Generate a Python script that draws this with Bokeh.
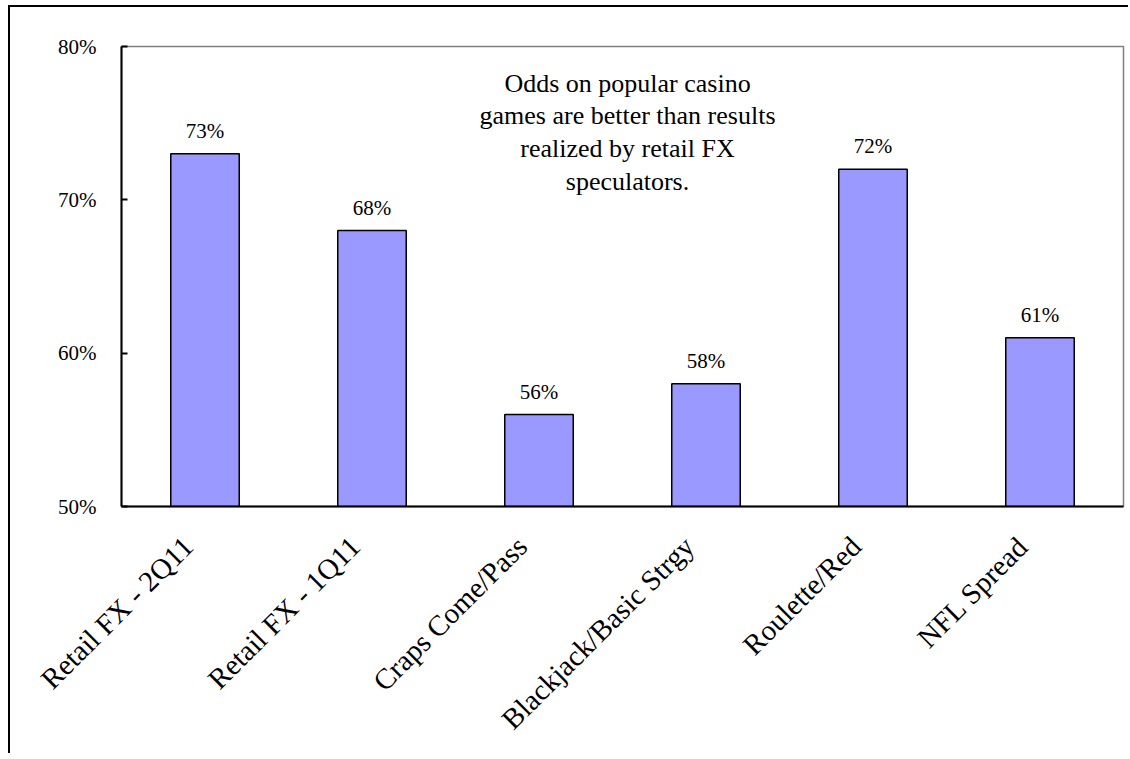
import math
from bokeh.plotting import figure
from bokeh.models import (ColumnDataSource, FixedTicker, NumeralTickFormatter, Range1d,
                          LabelSet, LinearAxis)
from bokeh.core.properties import value
from bokeh.embed import file_html
from bokeh.resources import INLINE

categories = ["Retail FX - 2Q11", "Retail FX - 1Q11", "Craps Come/Pass",
              "Blackjack/Basic Strgy", "Roulette/Red", "NFL Spread"]
win_rates = [0.73, 0.68, 0.56, 0.58, 0.72, 0.61]
value_labels = ["73%", "68%", "56%", "58%", "72%", "61%"]
y_ticks = [0.5, 0.6, 0.7, 0.8]
note_lines = ["Odds on popular casino", "games are better than results",
              "realized by retail FX", "speculators."]

FONT = "Liberation Serif"
n_cat = len(categories)
idx = list(range(n_cat))

p = figure(x_range=Range1d(-0.5, n_cat - 0.5),
           y_range=Range1d(0.5, 0.8), x_axis_location=None,
           width=1120, height=748, output_backend="svg", toolbar_location=None,
           min_border_left=111, min_border_top=39, min_border_right=7,
           min_border_bottom=249)
p.styles = {"border-top": "2px solid black", "border-left": "2px solid black",
            "margin-left": "8px", "margin-top": "5px"}

src = ColumnDataSource(dict(x=idx, cat=categories, val=win_rates, lab=value_labels))
p.vbar(x="x", top="val", bottom=0.5, width=0.41, source=src,
       fill_color="#9999FF", line_color="black", line_width=1.5)

labels = LabelSet(x="x", y="val", text="lab", source=src, y_offset=11,
                  text_align="center", text_baseline="bottom",
                  text_font=value(FONT), text_font_size="21px", text_color="black")
p.add_layout(labels)

# note text, centred between the 3rd and 4th categories
n = len(note_lines)
note_src = ColumnDataSource(dict(
    x=[2.53] * n,
    y=[0.776 - i * 0.0213 for i in range(n)],
    t=note_lines))
p.text(x="x", y="y", text="t", source=note_src, text_align="center",
       text_baseline="middle", text_font=value(FONT), text_font_size="26px",
       text_color="black")

p.grid.visible = False
p.outline_line_color = "#808080"
p.outline_line_width = 1.5
p.background_fill_color = "white"
p.border_fill_color = "white"

ya = p.yaxis[0]
ya.ticker = FixedTicker(ticks=y_ticks, minor_ticks=[])
ya.formatter = NumeralTickFormatter(format="0%")
ya.axis_line_color = "black"
ya.axis_line_width = 2
ya.major_tick_in = 6
ya.major_tick_out = 0
ya.major_tick_line_width = 2
ya.minor_tick_line_color = None
ya.major_label_standoff = 25
ya.major_label_text_font = FONT
ya.major_label_text_font_size = "21px"
ya.major_label_text_color = "black"

# category axis: labels anchored slightly left of each category centre (as in the original)
shift = 0.102
p.extra_x_ranges = {"lab": Range1d(-0.5 + shift, n_cat - 0.5 + shift)}
xa = LinearAxis(x_range_name="lab",
                ticker=FixedTicker(ticks=idx, minor_ticks=[]),
                major_label_overrides={i: c for i, c in zip(idx, categories)})
xa.axis_line_color = "black"
xa.axis_line_width = 2
xa.major_tick_line_color = None
xa.minor_tick_line_color = None
xa.major_label_orientation = math.pi / 4
xa.major_label_standoff = 29
xa.major_label_text_font = FONT
xa.major_label_text_font_size = "29px"
xa.major_label_text_color = "black"
p.add_layout(xa, "below")

open("out.html", "w").write(file_html(p, INLINE))
